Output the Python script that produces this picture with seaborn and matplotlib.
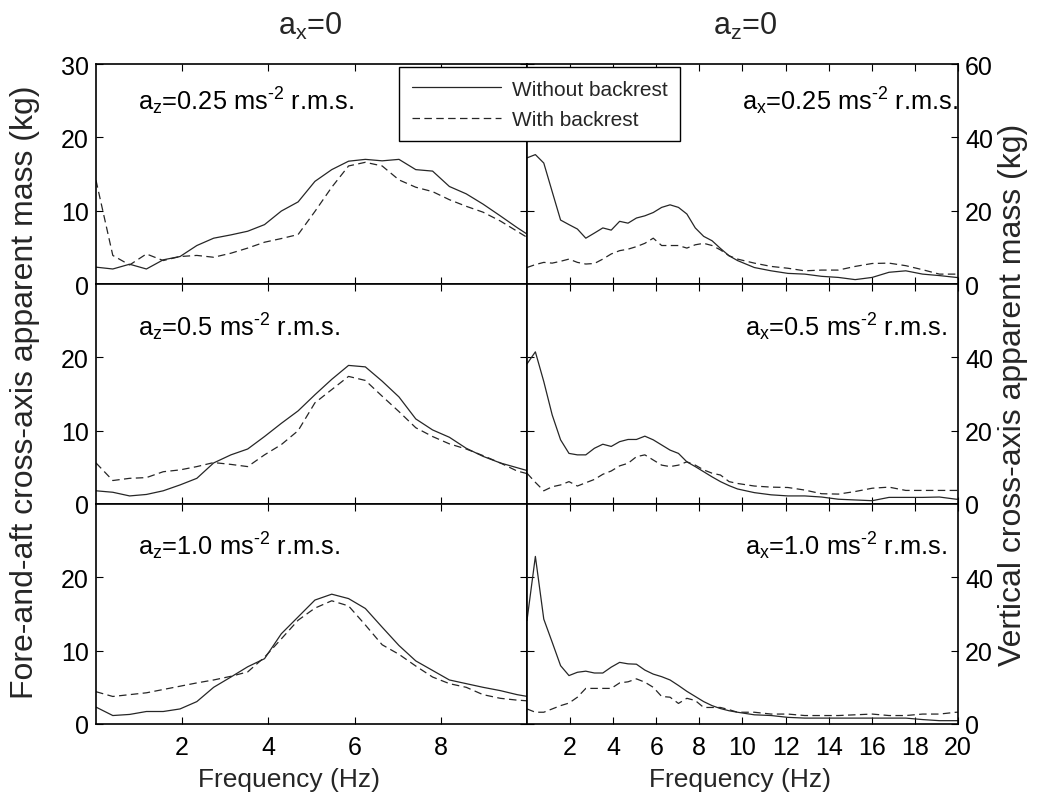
import matplotlib
matplotlib.use("Agg")
import matplotlib.pyplot as plt
import pandas as pd
import seaborn as sns

# Fore-and-aft cross-axis apparent mass (vertical excitation, a_x = 0), 0-10 Hz
F_FA = [0.00, 0.39, 0.78, 1.17, 1.56, 1.95, 2.34, 2.73, 3.13, 3.52, 3.91, 4.30, 4.69,
        5.08, 5.47, 5.86, 6.25, 6.64, 7.03, 7.42, 7.81, 8.20, 8.59, 8.98, 9.38, 9.77, 10.16]

FA_025_WITHOUT = [2.3, 2.05, 2.7, 2.05, 3.3, 3.75, 5.25, 6.25, 6.7, 7.2, 8.1, 9.95, 11.2,
                  14.0, 15.6, 16.75, 17.0, 16.8, 17.0, 15.6, 15.4, 13.3, 12.3, 10.9, 9.3, 7.7, 6.2]
FA_025_WITH = [14.15, 3.9, 2.6, 4.1, 3.2, 3.75, 3.9, 3.65, 4.2, 4.9, 5.7, 6.2, 6.75,
               9.9, 13.2, 16.1, 16.6, 16.1, 14.2, 13.2, 12.6, 11.5, 10.6, 9.8, 8.6, 7.2, 5.8]

FA_05_WITHOUT = [1.8, 1.6, 1.1, 1.3, 1.8, 2.6, 3.5, 5.6, 6.7, 7.5, 9.2, 11.0, 12.7,
                 14.9, 17.0, 18.9, 18.7, 16.75, 14.6, 11.6, 10.1, 9.1, 7.6, 6.5, 5.6, 4.95, 4.3]
FA_05_WITH = [5.6, 3.2, 3.5, 3.6, 4.4, 4.65, 5.1, 5.65, 5.4, 5.1, 6.7, 8.1, 10.0,
              13.8, 15.6, 17.4, 16.85, 14.7, 12.6, 10.4, 9.2, 8.2, 7.5, 6.6, 5.6, 4.5, 3.9]

FA_10_WITHOUT = [2.3, 1.15, 1.3, 1.7, 1.7, 2.05, 3.05, 5.0, 6.4, 7.8, 8.9, 12.3, 14.6,
                 16.9, 17.7, 17.1, 15.75, 13.2, 10.7, 8.6, 7.3, 6.0, 5.5, 5.0, 4.55, 4.0, 3.6]
FA_10_WITH = [4.4, 3.75, 4.0, 4.25, 4.7, 5.15, 5.6, 6.0, 6.5, 7.1, 9.1, 11.6, 14.15,
              15.8, 16.8, 16.1, 13.5, 10.8, 9.5, 7.9, 6.4, 5.5, 5.0, 4.0, 3.5, 3.25, 3.1]

# Vertical cross-axis apparent mass (fore-and-aft excitation, a_z = 0), 0-20 Hz
F_V = [0.00, 0.39, 0.78, 1.17, 1.56, 1.95, 2.34, 2.73, 3.13, 3.52, 3.91, 4.30, 4.69,
       5.08, 5.47, 5.86, 6.25, 6.64, 7.03, 7.42, 7.81, 8.20, 8.59, 8.98, 9.38, 9.77,
       10.55, 11.33, 12.11, 12.89, 13.67, 14.45, 15.23, 16.02, 16.80, 17.58, 18.36,
       19.14, 19.92, 20.70]

V_025_WITHOUT = [34.4, 35.3, 33.0, 25.2, 17.45, 16.2, 15.0, 12.5, 13.9, 15.3,
                 14.7, 17.1, 16.6, 18.0, 18.6, 19.5, 20.9, 21.6, 20.9, 19.1,
                 15.3, 13.0, 11.8, 9.7, 7.7, 6.4,
                 4.5, 3.6, 2.9, 2.7, 2.1, 1.8, 1.2, 1.8, 3.2, 3.6, 2.7, 2.3, 1.8, 1.4]
V_025_WITH = [4.5, 5.3, 5.9, 5.7, 6.2, 6.8, 5.9, 5.45, 5.6, 6.8,
              8.2, 9.1, 9.5, 10.2, 11.1, 12.5, 10.5, 10.5, 10.5, 9.8,
              10.7, 11.1, 10.5, 9.3, 7.7, 6.8,
              5.7, 4.8, 4.3, 3.6, 3.8, 3.8, 4.8, 5.6, 5.7, 5.0, 3.9, 2.7, 2.7, 3.5]

V_05_WITHOUT = [38.2, 41.5, 33.4, 24.3, 17.5, 13.8, 13.4, 13.4, 15.2, 16.3,
                15.7, 17.0, 17.6, 17.6, 18.5, 17.5, 16.1, 14.7, 13.8, 11.5,
                10.2, 8.8, 7.4, 6.1, 5.0, 4.1,
                3.1, 2.5, 2.2, 2.2, 1.9, 1.3, 1.1, 0.9, 1.8, 1.8, 1.8, 1.9, 1.3, 1.2]
V_05_WITH = [8.4, 5.9, 3.6, 4.7, 5.2, 6.1, 4.9, 5.8, 6.7, 8.1,
             9.0, 10.4, 11.1, 12.9, 13.4, 12.0, 10.6, 10.2, 10.6, 11.5,
             10.6, 9.3, 8.4, 7.9, 6.1, 5.6,
             4.9, 4.6, 4.5, 3.8, 2.8, 2.7, 3.4, 4.3, 4.6, 3.7, 3.7, 3.7, 3.7, 3.7]

V_10_WITHOUT = [28.2, 45.7, 28.6, 22.3, 15.9, 13.2, 14.1, 14.4, 13.9, 13.9,
                15.5, 16.8, 16.4, 16.3, 14.7, 13.6, 12.9, 12.0, 10.5, 8.9,
                7.5, 6.1, 5.0, 4.2, 3.6, 3.2,
                2.5, 2.3, 1.8, 1.6, 1.6, 1.6, 1.6, 1.6, 1.6, 1.6, 1.2, 0.9, 0.9, 0.9]
V_10_WITH = [4.1, 3.2, 3.2, 4.1, 5.0, 5.7, 7.3, 9.7, 9.7, 9.7,
             9.7, 11.2, 11.5, 12.3, 11.4, 10.0, 7.5, 7.3, 5.6, 7.0,
             6.4, 4.5, 4.5, 4.5, 3.9, 3.2,
             3.2, 2.7, 2.7, 2.3, 2.3, 2.3, 2.5, 2.7, 2.3, 2.3, 2.7, 2.7, 3.2, 3.2]

CONDITIONS = ["Without backrest", "With backrest"]
LEFT_LABELS = [r"a$_z$=0.25 ms$^{\text{-}2}$ r.m.s.",
               r"a$_z$=0.5 ms$^{\text{-}2}$ r.m.s.",
               r"a$_z$=1.0 ms$^{\text{-}2}$ r.m.s."]
RIGHT_LABELS = [r"a$_x$=0.25 ms$^{\text{-}2}$ r.m.s.",
                r"a$_x$=0.5 ms$^{\text{-}2}$ r.m.s.",
                r"a$_x$=1.0 ms$^{\text{-}2}$ r.m.s."]
LEFT_XTICKS = [2, 4, 6, 8]
RIGHT_XTICKS = [2, 4, 6, 8, 10, 12, 14, 16, 18, 20]

sns.set_style("ticks")
plt.rcParams["font.family"] = ["Liberation Sans", "DejaVu Sans"]
plt.rcParams["mathtext.fontset"] = "custom"
plt.rcParams["mathtext.rm"] = "Liberation Sans"
plt.rcParams["mathtext.it"] = "Liberation Sans"
plt.rcParams["mathtext.bf"] = "Liberation Sans:bold"
plt.rcParams["mathtext.default"] = "regular"

LINE = "#262626"
DASHES = {"Without backrest": "", "With backrest": (6, 3.5)}

fig = plt.figure(figsize=(10.4, 8.04), dpi=100)

LEFT_X, MID_X, COL_W = 0.0923, 0.5067, 0.4144
ROW_H = 0.2736
ROW_BOTTOMS = [0.6455, 0.3719, 0.0983]

left_data = [(FA_025_WITHOUT, FA_025_WITH), (FA_05_WITHOUT, FA_05_WITH), (FA_10_WITHOUT, FA_10_WITH)]
right_data = [(V_025_WITHOUT, V_025_WITH), (V_05_WITHOUT, V_05_WITH), (V_10_WITHOUT, V_10_WITH)]


def panel_frame(freq, without, with_):
    return pd.DataFrame({
        "Frequency": list(freq) + list(freq),
        "Mass": list(without) + list(with_),
        "Condition": [CONDITIONS[0]] * len(freq) + [CONDITIONS[1]] * len(freq),
    })


def style_axes(ax, right):
    for sp in ax.spines.values():
        sp.set_visible(True)
        sp.set_linewidth(1.2)
        sp.set_color("black")
    ax.tick_params(which="both", direction="in", length=5, width=0.8,
                   top=True, bottom=True, left=True, right=True,
                   labelsize=18, colors="black", pad=5,
                   labelleft=not right, labelright=right)
    ax.tick_params(axis="x", pad=8)
    ax.set_xlabel("")
    ax.set_ylabel("")


axes = []
for row in range(3):
    # fore-and-aft panel
    axL = fig.add_axes([LEFT_X, ROW_BOTTOMS[row], COL_W, ROW_H])
    sns.lineplot(data=panel_frame(F_FA, *left_data[row]), x="Frequency", y="Mass",
                 style="Condition", style_order=CONDITIONS, dashes=DASHES,
                 color=LINE, linewidth=0.9, estimator=None, sort=False,
                 legend=False, ax=axL)
    axL.set_xlim(0, 10)
    axL.set_ylim(0, 30)
    axL.set_yticks([0, 10, 20, 30] if row == 0 else [0, 10, 20])
    axL.set_xticks(LEFT_XTICKS)
    style_axes(axL, right=False)
    axL.tick_params(labelbottom=(row == 2))
    axL.text(0.097, 0.835 if row == 0 else 0.81, LEFT_LABELS[row], transform=axL.transAxes,
             fontsize=18.3, ha="left", va="center", color="black")

    # vertical panel
    axR = fig.add_axes([MID_X, ROW_BOTTOMS[row], COL_W, ROW_H])
    sns.lineplot(data=panel_frame(F_V, *right_data[row]), x="Frequency", y="Mass",
                 style="Condition", style_order=CONDITIONS, dashes=DASHES,
                 color=LINE, linewidth=0.9, estimator=None, sort=False,
                 legend=False, ax=axR)
    axR.set_xlim(0, 20)
    axR.set_ylim(0, 60)
    axR.set_yticks([0, 20, 40, 60] if row == 0 else [0, 20, 40])
    axR.set_xticks(RIGHT_XTICKS)
    style_axes(axR, right=True)
    axR.tick_params(labelbottom=(row == 2))
    axR.text(0.499 if row == 0 else 0.506, 0.835 if row == 0 else 0.81, RIGHT_LABELS[row],
             transform=axR.transAxes, fontsize=18.3, ha="left", va="center", color="black")
    axes.append((axL, axR))

# Shared legend spanning the two top panels
handles = axes[0][0].get_lines()[:2]
leg = fig.legend(handles, CONDITIONS, loc="upper left",
                 bbox_to_anchor=(399 / 1040, 1 - 68 / 804), borderaxespad=0,
                 fontsize=15, frameon=True, fancybox=False, framealpha=1,
                 edgecolor="black", handlelength=4.3, handletextpad=0.5,
                 borderpad=0.6, labelspacing=0.55)
leg.get_frame().set_linewidth(1.0)
leg.set_zorder(10)

# Column titles and axis labels
fig.text(310 / 1040, 1 - 26 / 804, "a$_x$=0", fontsize=22, ha="center", va="center")
fig.text(745 / 1040, 1 - 26 / 804, "a$_z$=0", fontsize=22, ha="center", va="center")
fig.text(289 / 1040, 1 - 780 / 804, "Frequency (Hz)", fontsize=19, ha="center", va="center")
fig.text(740 / 1040, 1 - 780 / 804, "Frequency (Hz)", fontsize=19, ha="center", va="center")
fig.text(25 / 1040, 1 - 392 / 804, "Fore-and-aft cross-axis apparent mass (kg)",
         fontsize=23, rotation=90, ha="center", va="center")
fig.text(1013 / 1040, 1 - 395 / 804, "Vertical cross-axis apparent mass (kg)",
         fontsize=23, rotation=90, ha="center", va="center")

fig.savefig("out.png", dpi=100, facecolor="white")
